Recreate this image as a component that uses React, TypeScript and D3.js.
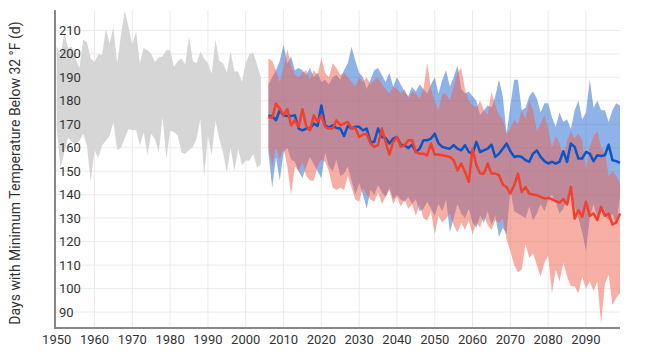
import React from "react";
import * as d3 from "d3";

// observed 1950-2004, projections 2006-2099
const histYears = d3.range(1950, 2005);
const futureYears = d3.range(2006, 2100);

const histUpper = [
  203.5, 199, 209, 202.5, 203, 198, 194, 206, 205, 198,
  196.5, 200, 199.5, 210.5, 204.5, 211.5, 196, 208, 218.5, 211.5,
  204, 209.5, 196, 202.5, 201.5, 200, 196.5, 198.5, 199, 201.5,
  201.5, 194.5, 197, 198, 195.5, 207.5, 197, 196, 201, 198,
  196, 191.5, 206, 197, 196, 192, 201, 192.5, 192.5, 188,
  196, 200, 200.5, 195.5, 190,
];
const histLower = [
  168, 151.5, 158, 164.5, 162.5, 161, 163, 166, 161, 145.5,
  159, 155.5, 161, 163, 165, 171, 159, 160, 164, 168,
  167.5, 167.5, 161, 166.5, 157, 166, 163.5, 158, 173, 155.3,
  167.4, 166.7, 165.3, 158, 157.5, 159, 160.3, 163.8, 172.4, 147.5,
  165.3, 156.7, 171.6, 163.8, 158, 149.3, 160, 150, 159.6, 152.5,
  154.6, 154.6, 157.4, 151.5, 153,
];

const blueUpper = [
  187, 190, 193, 197, 204, 196, 199, 193, 194, 193,
  191, 194, 190, 192, 188, 189, 187, 190, 191, 189,
  193, 196, 203, 197, 192, 190, 185, 189, 193, 194,
  191, 188, 192, 186, 190, 187, 184, 182, 186, 184,
  187, 185, 183, 187, 190, 183, 189, 193, 186, 190,
  195, 185, 183, 184, 182, 180, 174, 176, 178, 177,
  182, 189, 182, 166, 178, 189, 189, 176, 177, 182,
  184, 181, 175, 179, 179, 173, 169, 175, 171, 172,
  168, 176, 180, 172, 175, 189, 177, 180, 176, 176,
  171, 176, 179, 178,
];
const blueLower = [
  158, 143, 156, 146, 158, 160, 155, 154, 150, 147,
  152, 156, 153, 150, 147, 158, 152, 150, 155, 148,
  149, 152, 146, 140, 145, 140, 134, 142, 140, 144,
  141, 139, 143, 138, 140, 138, 137, 139, 136, 138,
  133, 134, 137, 134, 131, 136, 133, 138, 124, 130,
  136, 132, 130, 134, 128, 126, 131, 128, 133, 127,
  131, 122, 126, 123, 142, 133, 132, 131, 130, 135,
  129, 132, 136, 133, 138, 140, 137, 132, 134, 138,
  142, 135, 130, 124, 116, 130, 136, 130, 133, 131,
  129, 132, 127, 139,
];
const redUpper = [
  198, 197, 193, 188, 194, 202, 195, 191, 190, 192,
  193, 189, 193, 191, 198, 192, 190, 196, 194, 191,
  192, 190, 188, 186, 190, 188, 190, 187, 189, 190,
  187, 185, 183, 186, 185, 183, 185, 181, 184, 183,
  181, 185, 196, 185, 180, 176, 183, 183, 180, 186,
  192, 194, 185, 180, 178, 177, 180, 176, 174, 184,
  178, 174, 172, 166, 168, 172, 170, 176, 172, 180,
  176, 167, 170, 174, 168, 160, 165, 162, 155, 163,
  167, 164, 166, 163, 151, 160, 165, 167, 160, 158,
  148, 150, 148, 145,
];
const redLower = [
  160, 152, 160, 155, 160, 152, 140, 152, 150, 154,
  148, 146, 146, 152, 155, 154, 150, 143, 142, 143,
  142, 148, 143, 138, 137, 143, 140, 138, 137, 141,
  136, 139, 142, 136, 139, 135, 138, 134, 136, 131,
  136, 130, 129, 133, 123, 131, 128, 130, 132, 127,
  124, 128, 125, 129, 123, 128, 126, 131, 127, 125,
  129, 128, 130, 121, 116, 110, 107, 108, 119, 113,
  115, 110, 105, 111, 114, 98, 108, 103, 111, 105,
  101, 101, 98, 105, 100, 103, 99, 103, 85, 102,
  106, 93, 96, 98,
];
const blueMedian = [
  173.5, 173.5, 171.7, 176, 173.8, 173.5, 173.5, 173.8, 168.2, 167.4,
  168.2, 168.2, 170.3, 169.3, 178, 169.6, 168.6, 169.6, 168.4, 168.2,
  165, 169.3, 168.2, 168.9, 168.9, 167.4, 168.2, 162.5, 162.5, 168.2,
  164.6, 164.2, 161.8, 163.9, 164.6, 161.3, 161.1, 159.9, 161.3, 158.2,
  159.6, 163.2, 163.2, 163.9, 166, 161.8, 160.4, 159.9, 159.6, 161.1,
  159.6, 158.9, 161.1, 158.2, 157.5, 162.5, 158.2, 158.9, 159.6, 161.3,
  156.1, 157.5, 159.6, 161.8, 158.5, 156.1, 156.5, 156.1, 154.7, 154,
  157.5, 158.9, 156.1, 154.3, 153.3, 154, 153.3, 154, 158.5, 154,
  161.8, 160.4, 155.4, 155.4, 158.2, 157.5, 154.3, 156.8, 156.5, 156.8,
  161.3, 154.7, 154.3, 153.6,
];
const redMedian = [
  173.1, 172.7, 178.8, 176.7, 173.8, 176.4, 169.6, 171.7, 168.9, 176.4,
  169.3, 167.4, 173.8, 171, 173.8, 168.9, 168.2, 168.2, 171.7, 169.6,
  170.3, 171, 168.2, 168.4, 164.6, 165.6, 166, 161.8, 160.4, 161.1,
  168.2, 162.5, 157.1, 162.5, 164.6, 160.4, 161.1, 163.2, 163.2, 158.2,
  157.5, 157.5, 156.8, 161.8, 157.1, 157.1, 156.8, 156.5, 156.1, 154.7,
  150.4, 153.3, 149.7, 145.5, 159.6, 152.6, 149, 149, 153.3, 149,
  149, 148.3, 144.3, 143.3, 140.5, 144, 149, 141.2, 143.3, 140.5,
  140.1, 139.8, 139.1, 138.4, 138.6, 138.1, 137.2, 136.7, 138.1, 135.8,
  143.3, 129.8, 133.4, 130.6, 137, 131, 132, 129.2, 134.8, 131,
  132, 127.3, 128.2, 132,
];

const xTicks = d3.range(1950, 2100, 10);
const yTicks = d3.range(90, 220, 10);
const yTitle = "Days with Minimum Temperature Below 32 °F (d)";

export default function App() {
  const width = 656;
  const height = 363;
  const left = 56.7, right = 620, top = 10, bottom = 328;

  const x = d3.scaleLinear().domain([1950, 2099]).range([left, right]);
  const y = d3.scaleLinear().domain([83.2, 218.7]).range([bottom, top]);

  const band = (years: number[], lo: number[], hi: number[]) =>
    d3.area<number>()
      .x((_, i) => x(years[i]))
      .y0((_, i) => y(lo[i]))
      .y1((_, i) => y(hi[i]))(years) || "";

  const line = (years: number[], vals: number[]) =>
    d3.line<number>()
      .x((_, i) => x(years[i]))
      .y((_, i) => y(vals[i]))(years) || "";

  const font = "Roboto, 'Noto Sans', sans-serif";

  return (
    <svg width={width} height={height}
      style={{ position: "absolute", left: 0, top: 0, background: "#fff" }}>
      {/* grid */}
      <g stroke="#ebebeb" strokeWidth={1}>
        {yTicks.map(t => (
          <line key={"gy" + t} x1={55} x2={right} y1={y(t)} y2={y(t)} />
        ))}
        {xTicks.slice(1).map(t => (
          <line key={"gx" + t} x1={x(t)} x2={x(t)} y1={top} y2={bottom} />
        ))}
      </g>

      <path d={band(histYears, histLower, histUpper)} fill="#d6d6d6" />
      <path d={band(futureYears, blueLower, blueUpper)} fill="#2066d4" fillOpacity={0.5} />
      <path d={band(futureYears, redLower, redUpper)} fill="#f0604c" fillOpacity={0.5} />

      <path d={line(futureYears, blueMedian)} fill="none" stroke="#0a55c8" strokeWidth={2.5} strokeLinejoin="round" />
      <path d={line(futureYears, redMedian)} fill="none" stroke="#f2402a" strokeWidth={2.5} strokeLinejoin="round" />

      {/* axes */}
      <line x1={55} x2={55} y1={top} y2={bottom + 1} stroke="#888" strokeWidth={2} />
      <line x1={54} x2={right} y1={bottom} y2={bottom} stroke="#888" strokeWidth={2} />

      <g fontFamily={font} fontSize={13} fill="#333">
        {yTicks.map(t => (
          <text key={"ly" + t} x={59} y={y(t)} dy="0.35em">{t}</text>
        ))}
        {xTicks.map(t => (
          <text key={"lx" + t} x={x(t)} y={bottom + 11} dy="0.35em" textAnchor="middle">{t}</text>
        ))}
      </g>

      <text transform={`translate(15,${(top + bottom) / 2 + 4}) rotate(-90)`}
        textAnchor="middle" dy="0.35em" fontFamily={font} fontSize={14} fill="#333">
        {yTitle}
      </text>
    </svg>
  );
}
